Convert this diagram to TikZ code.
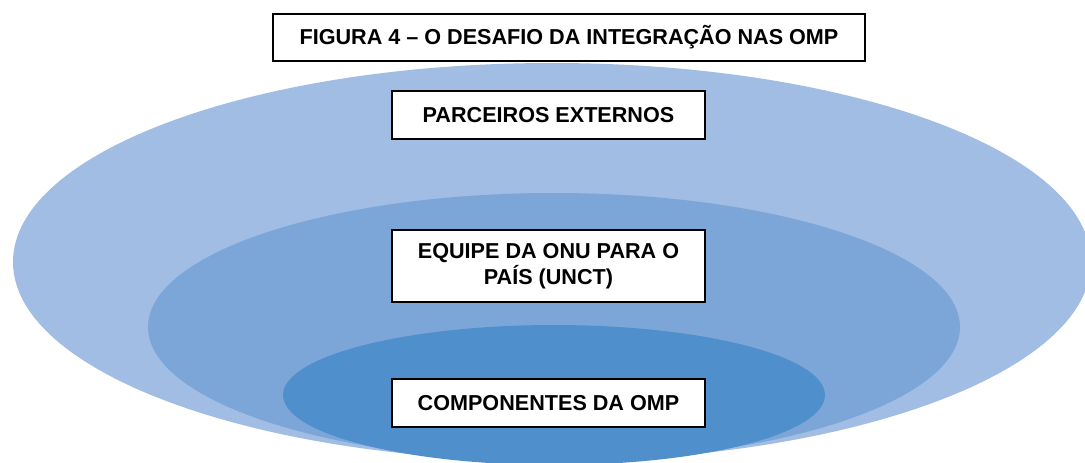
\documentclass[tikz,border=0pt]{standalone}
\usepackage{fontspec}
\setmainfont{Liberation Sans}
\usepackage{xcolor}
\definecolor{anelExterno}{RGB}{161,189,227}
\definecolor{anelMedio}{RGB}{125,166,216}
\definecolor{anelInterno}{RGB}{79,143,204}

\begin{document}
\begin{tikzpicture}[x=1pt, y=-1pt,
    rotulo/.style={draw, rectangle, fill=white, line width=1.7pt, minimum width=313pt, minimum height=48pt, align=center, font=\fontsize{21.6}{26}\selectfont\bfseries}]
    \useasboundingbox (0,0) rectangle (1085,463);
    \clip (0,0) rectangle (1085,463);

    % aneis
    \fill [anelExterno] (552,262) ellipse [x radius=539pt, y radius=199pt];
    \fill [anelMedio] (554,327) ellipse [x radius=406pt, y radius=134pt];
    \fill [anelInterno] (554,395) ellipse [x radius=271pt, y radius=70pt];

    \node (titulo) [rotulo, minimum width=592pt, minimum height=47pt] at (569,37.5) {FIGURA 4 -- O DESAFIO DA INTEGRAÇÃO NAS OMP};
    \node (parceiros) [rotulo] at (548.5,115) {PARCEIROS EXTERNOS};
    \node (equipe) [rotulo, minimum height=72pt] at (548.5,266) {EQUIPE DA ONU PARA O\\PAÍS (UNCT)};
    \node (componentes) [rotulo] at (548.5,403) {COMPONENTES DA OMP};

\end{tikzpicture}
\end{document}
